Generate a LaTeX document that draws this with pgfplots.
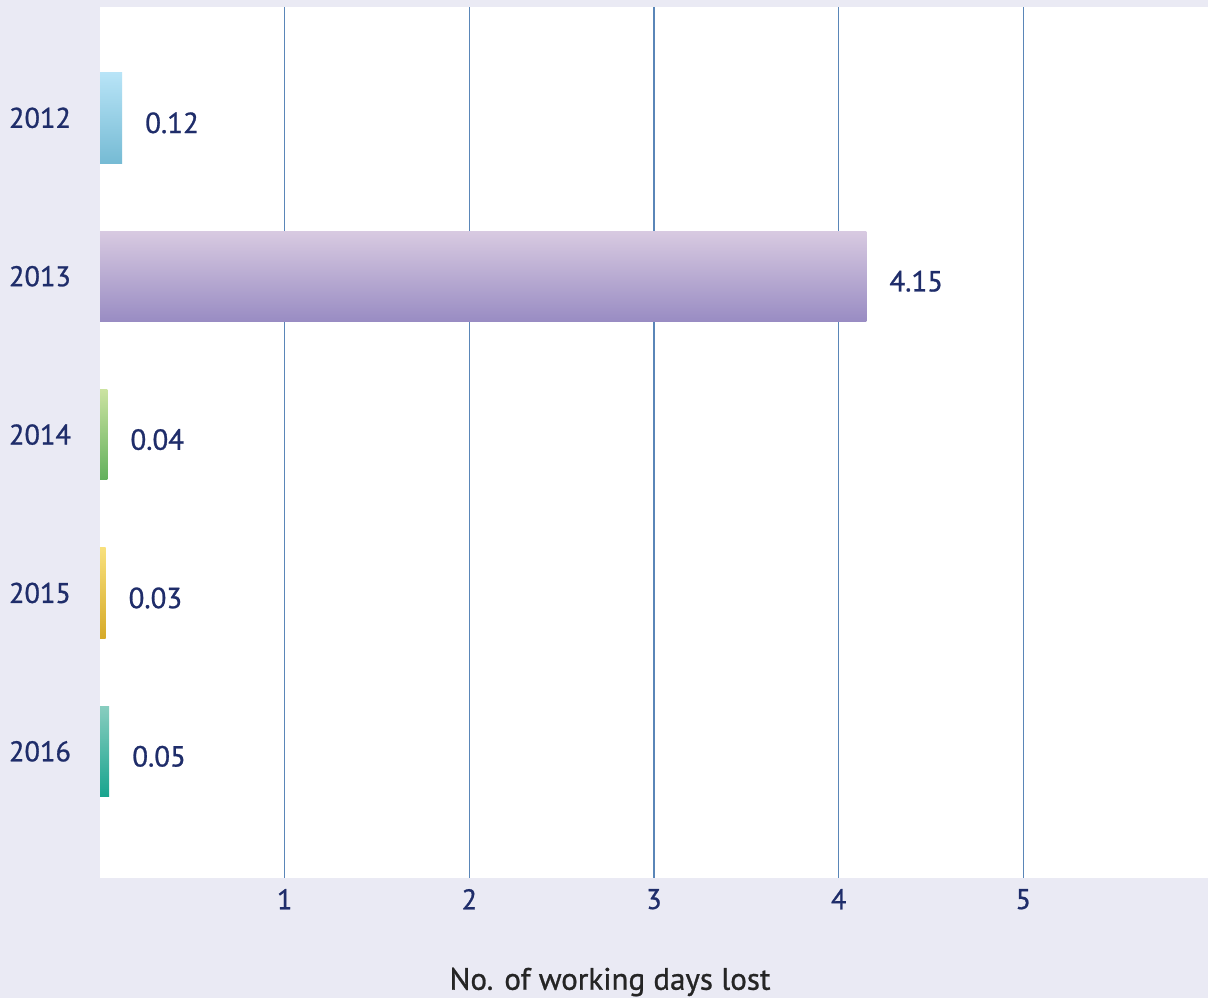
\documentclass[border=0pt]{standalone}
\usepackage{pgfplots}
\pgfplotsset{compat=1.18}
\usepackage{fontspec}
\setmainfont{PT Sans}[RawFeature={embolden=0.9}]
\definecolor{bgc}{HTML}{EAEAF4}
\definecolor{navy}{HTML}{1F2D6A}
\definecolor{gridc}{HTML}{5A86B8}
\definecolor{titlec}{HTML}{252525}
\definecolor{aT}{HTML}{B8E4F7}\definecolor{aB}{HTML}{76BBD4}
\definecolor{bT}{HTML}{D8CAE1}\definecolor{bB}{HTML}{998CC3}
\definecolor{cT}{HTML}{CBE3A0}\definecolor{cB}{HTML}{62B05C}
\definecolor{dT}{HTML}{F8E07C}\definecolor{dB}{HTML}{D6AA28}
\definecolor{eT}{HTML}{88CDBF}\definecolor{eB}{HTML}{18A48E}
\begin{document}
\begin{tikzpicture}[x=1pt,y=1pt]
\fill[bgc] (0,0) rectangle (604,499);
\path[use as bounding box] (0,0) rectangle (604,499);
\begin{axis}[
  at={(50pt,60pt)}, anchor=south west,
  scale only axis, width=554pt, height=435.5pt,
  xmin=0, xmax=6, ymin=-0.70, ymax=4.80,
  y dir=reverse,
  axis line style={draw=none},
  axis background/.style={fill=white},
  major tick length=0pt,
  xtick={1,2,3,4,5},
  ytick={0,1,2,3,4},
  yticklabels={2012,2013,2014,2015,2016},
  xmajorgrids,
  major grid style={gridc, line width=0.75pt},
  font=\fontsize{14.2}{17}\selectfont,
  ticklabel style={text=navy},
  yticklabel style={anchor=east, xshift=-11pt},
  xticklabel style={anchor=north, yshift=-2pt},
  /pgf/number format/assume math mode=true,
  xbar, bar width=0.57, bar shift=0pt,
  nodes near coords,
  point meta=x,
  nodes near coords style={anchor=west, xshift=8pt, yshift=-2.5pt, text=navy, font=\fontsize{14.5}{17}\selectfont,
    /pgf/number format/.cd, fixed, fixed zerofill, precision=2, assume math mode=true},
  clip=false,
]
\addplot[draw=none, top color=aT, bottom color=aB] coordinates {(0.12,0)};
\addplot[draw=none, top color=bT, bottom color=bB] coordinates {(4.15,1)};
\addplot[draw=none, top color=cT, bottom color=cB] coordinates {(0.04,2)};
\addplot[draw=none, top color=dT, bottom color=dB] coordinates {(0.03,3)};
\addplot[draw=none, top color=eT, bottom color=eB] coordinates {(0.05,4)};
\end{axis}
\node[text=titlec, font=\fontsize{15.5}{18}\selectfont] at (305pt,8pt) {No. of working days lost};
\end{tikzpicture}
\end{document}
